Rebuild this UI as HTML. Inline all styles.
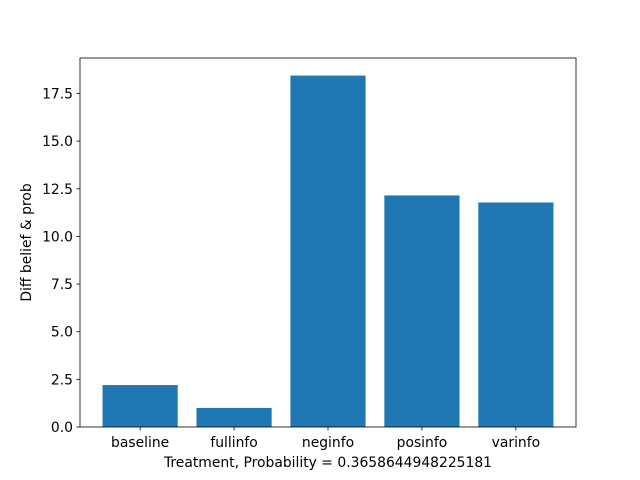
<!DOCTYPE html>
<html><head><meta charset="utf-8"><style>
body{margin:0;background:#fff}
svg{display:block;font-family:"DejaVu Sans","Liberation Sans",sans-serif}
</style></head><body>
<svg id="chart" width="640" height="480" xmlns="http://www.w3.org/2000/svg"></svg>
<script>
const categories=["baseline","fullinfo","neginfo","posinfo","varinfo"];
const values=[2.2,1.0,18.44,12.15,11.78];
const yTicks=[0,2.5,5,7.5,10,12.5,15,17.5];
const yTickLabels=["0.0","2.5","5.0","7.5","10.0","12.5","15.0","17.5"];
const L=80,R=576,T=58,B=427;
const NS="http://www.w3.org/2000/svg";
const svg=document.getElementById('chart');
const ymax=Math.max(...values)*1.05;
const xmin=-0.4-0.05*(categories.length-1+0.8),xmax=categories.length-1+0.4+0.05*(categories.length-1+0.8);
function xs(v){return L+(v-xmin)/(xmax-xmin)*(R-L);}
function ys(v){return B-v/ymax*(B-T);}
function mk(tag,attrs,parent){const e=document.createElementNS(NS,tag);for(const k in attrs)e.setAttribute(k,attrs[k]);(parent||svg).appendChild(e);return e;}
const FS=13.9;
values.forEach((v,i)=>{
  const r=mk('rect',{x:xs(i-0.4),y:ys(v),width:xs(i+0.4)-xs(i-0.4),height:B-ys(v),fill:'#1f77b4'});
  
  
  mk('line',{x1:xs(i),x2:xs(i),y1:B,y2:B+3.5,stroke:'#000','stroke-width':0.8});
  const t=mk('text',{x:xs(i),y:B+20,'text-anchor':'middle','font-size':FS,fill:'#000'});
  t.textContent=categories[i];
  
  
});
yTicks.forEach((v,i)=>{
  mk('line',{x1:L-3.5,x2:L,y1:ys(v),y2:ys(v),stroke:'#000','stroke-width':0.8});
  const t=mk('text',{x:L-7,y:ys(v)+5,'text-anchor':'end','font-size':FS,fill:'#000'});
  t.textContent=yTickLabels[i];
  
  
});
const fr=mk('rect',{x:L,y:T,width:R-L,height:B-T,fill:'none',stroke:'#000','stroke-width':0.8});


const xt=mk('text',{x:(L+R)/2,y:467,'text-anchor':'middle','font-size':FS,fill:'#000'});
xt.textContent='Treatment, Probability = 0.3658644948225181';


const yt=mk('text',{x:0,y:0,'text-anchor':'middle','font-size':FS,fill:'#000',transform:'translate(31,'+((T+B)/2)+') rotate(-90)'});
yt.textContent='Diff belief & prob';


</script>
</body></html>
